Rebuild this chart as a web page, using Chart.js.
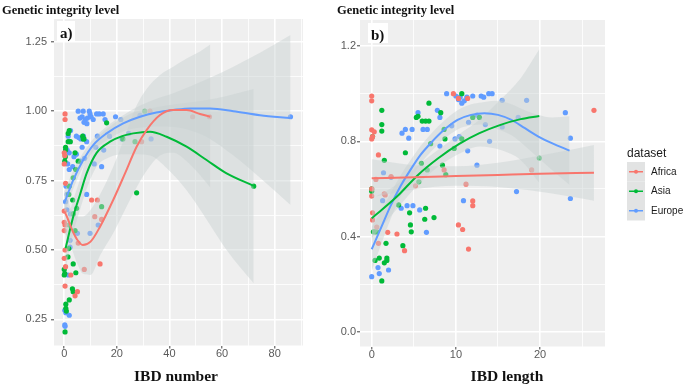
<!DOCTYPE html>
<html>
<head>
<meta charset="utf-8">
<script src="https://cdn.jsdelivr.net/npm/chart.js@4.4.0/dist/chart.umd.min.js"></script>
<style>
  html, body { margin: 0; padding: 0; background: #fff; }
  #wrap { position: relative; width: 685px; height: 387px; }
  canvas { position: absolute; top: 0; }
  #panelA { left: 0; }
  #panelB { left: 330px; }
</style>
</head>
<body>
<div id="wrap">
  <canvas id="panelA" width="330" height="387"></canvas>
  <canvas id="panelB" width="355" height="387"></canvas>
</div>
<script>
const groups = ['Africa', 'Asia', 'Europe'];
const groupColors = ['#F8766D', '#00BA38', '#619CFF'];

// ---- panel a) : IBD number vs genetic integrity level ----
const africaNum = [[0.3,0.99],[0.3,0.97],[0,0.85],[0.2,0.84],[0,0.81],[0.5,0.74],[0,0.64],[0,0.60],[0.3,0.59],[0,0.57],
  [0.3,0.50],[0,0.47],[0.5,0.44],[2.5,0.41],[0.3,0.37],[4.1,0.335],[5,0.35],[5.3,0.525],[7.6,0.43],[10.4,0.68],
  [12.6,0.68],[11.6,0.62],[14.2,0.61],[13.6,0.45],[29.4,0.89],[32.6,1.0],[48.8,0.98],[55.2,0.98]];
const asiaNum = [[1.9,0.93],[1.5,0.92],[1.5,0.89],[2.3,0.89],[0.5,0.87],[0.5,0.86],[0.4,0.836],[0.2,0.82],[4.1,0.85],[7,0.91],
  [7.2,0.90],[7.5,0.90],[4.4,0.79],[5.3,0.82],[3.4,0.76],[1.9,0.73],[1.7,0.70],[3.2,0.68],[4.7,0.65],[3.4,0.63],
  [1.9,0.59],[4.1,0.57],[1.7,0.505],[1.4,0.475],[0,0.43],[0,0.41],[0.2,0.415],[3.4,0.45],[4.4,0.418],[3.1,0.36],
  [3.4,0.35],[1.9,0.32],[0.6,0.305],[0.6,0.29],[0.8,0.28],[0.3,0.205],[14.2,0.656],[27.5,0.706],[16.1,0.958],
  [30.6,1.0],[22.3,0.90],[26.9,0.89],[72,0.73]];
const europeNum = [[5.3,1.0],[7.2,1.0],[9.5,1.0],[12.3,0.99],[13.3,0.99],[14.8,0.99],[9.8,0.99],[6,0.975],[6.8,0.98],[8,0.97],
  [8.8,0.975],[10.2,0.98],[11,0.97],[7.5,0.96],[8.6,0.955],[4.6,0.91],[5.5,0.905],[6.3,0.9],[7.3,0.91],[8.5,0.89],
  [2.4,0.93],[1.5,0.91],[1.1,0.86],[1.9,0.85],[1.3,0.81],[3.7,0.836],[4.6,0.845],[6.2,0.82],[7.7,0.83],[6.8,0.87],
  [1.9,0.79],[3.2,0.80],[0.7,0.73],[1.1,0.70],[0.5,0.674],[1,0.645],[2.4,0.63],[8.5,0.70],[5,0.56],[9.8,0.56],
  [2.2,0.535],[2.2,0.51],[1.5,0.41],[0.2,0.283],[0.6,0.274],[1.9,0.265],[0.2,0.23],[0.3,0.225],[11.4,0.81],[14.2,0.80],
  [15,0.86],[12.6,0.91],[15.5,0.97],[19.5,0.98],[21.5,0.97],[17.2,0.91],[22,0.90],[24.5,0.92],[12,0.87],[33,0.90],
  [12.9,0.59],[28.8,0.985],[86,0.98]];

// loess fits: x, fit, lower and upper band
const africaNumX  = [0, 1, 3, 5, 7, 10, 13.6, 18.6, 23.1, 27.5, 31.3, 36.4, 41.4, 46.5, 51.6, 55.5];
const africaNumFit = [0.64, 0.62, 0.572, 0.536, 0.518, 0.53, 0.584, 0.68, 0.776, 0.872, 0.932, 0.986, 1.004, 1.004, 0.99, 0.98];
const africaNumLo = [0.56, 0.55, 0.50, 0.45, 0.415, 0.41, 0.48, 0.56, 0.645, 0.725, 0.785, 0.84, 0.85, 0.82, 0.77, 0.725];
const africaNumHi = [0.72, 0.69, 0.64, 0.62, 0.62, 0.645, 0.70, 0.80, 0.91, 1.02, 1.08, 1.13, 1.16, 1.19, 1.215, 1.24];

const asiaNumX  = [0.5, 3.4, 6, 8.5, 12.3, 17.4, 22, 26.2, 32.6, 38.9, 46.5, 54.1, 61.7, 72];
const asiaNumFit = [0.506, 0.62, 0.70, 0.776, 0.85, 0.89, 0.91, 0.92, 0.926, 0.908, 0.872, 0.824, 0.776, 0.731];
const asiaNumLo = [0.43, 0.56, 0.645, 0.72, 0.80, 0.835, 0.845, 0.845, 0.84, 0.795, 0.715, 0.61, 0.50, 0.38];
const asiaNumHi = [0.58, 0.68, 0.755, 0.83, 0.90, 0.945, 0.975, 0.995, 1.01, 1.02, 1.03, 1.04, 1.055, 1.08];

const europeNumX  = [0, 3.4, 7.2, 11, 16.1, 22.4, 28.8, 35, 41.4, 48, 55.4, 64.3, 74.4, 86];
const europeNumFit = [0.668, 0.752, 0.824, 0.878, 0.92, 0.956, 0.98, 0.995, 1.004, 1.01, 1.01, 1.0, 0.985, 0.975];
const europeNumLo = [0.626, 0.72, 0.80, 0.855, 0.895, 0.927, 0.94, 0.945, 0.943, 0.93, 0.90, 0.84, 0.76, 0.662];
const europeNumHi = [0.71, 0.785, 0.85, 0.90, 0.945, 0.985, 1.02, 1.045, 1.065, 1.09, 1.12, 1.16, 1.21, 1.274];

// ---- panel b) : IBD length vs genetic integrity level ----
const africaLen = [[0,0.99],[0,0.97],[0,0.848],[0.3,0.84],[0,0.81],[0.1,0.82],[0.8,0.743],[0,0.60],[0,0.57],[0.1,0.50],
  [0.1,0.47],[0.6,0.44],[0.8,0.372],[1.9,0.418],[3,0.411],[3.9,0.341],[0.5,0.64],[1.6,0.575],[2.3,0.652],[1.5,0.58],
  [8.6,0.68],[5.2,0.613],[9.7,1.0],[10.3,0.98],[11.4,0.98],[11.2,0.62],[12,0.55],[12,0.53],[10.3,0.449],[10.8,0.43],
  [11.5,0.348],[19,0.68],[26.4,0.93]];
const asiaLen = [[0,0.59],[0,0.60],[0.1,0.82],[1.2,0.93],[1.2,0.87],[1.2,0.843],[1.5,0.72],[4,0.752],[3.2,0.533],[4.5,0.50],
  [4.6,0.449],[4.7,0.42],[3.7,0.362],[6.4,0.519],[6.3,0.473],[7.4,0.48],[6.8,0.96],[5.3,0.90],[5.5,0.905],[6,0.885],
  [6.4,0.885],[6.8,0.885],[8.2,0.92],[10.7,1.0],[1.7,0.372],[0.4,0.30],[0.9,0.31],[1.8,0.31],[1.8,0.30],[1.5,0.29],
  [1.2,0.214],[0.4,0.42],[0.6,0.42],[0.2,0.42],[5.6,0.63],[6.6,0.68],[7,0.79],[8.4,0.70],[8.8,0.66],[8.7,0.81],
  [9.8,0.77],[10.7,0.81],[12,0.90],[12.8,0.90],[8.6,0.85],[5.9,0.708],[19.9,0.73]];
const europeLen = [[0,0.232],[0.75,0.27],[0.9,0.245],[2,0.26],[1.4,0.668],[1.3,0.551],[2.3,0.649],[3.6,0.834],[4,0.85],[4.8,0.85],
  [4.4,0.813],[3.5,0.519],[4.2,0.53],[4.9,0.53],[5.7,0.512],[6.5,0.418],[5.5,0.92],[6.1,0.85],[6.6,0.85],[7.8,0.93],
  [8.1,0.90],[8.9,1.0],[10,0.99],[10.3,0.975],[10.5,0.985],[10.7,0.96],[11,0.97],[11.3,0.985],[12,0.99],[13,0.99],
  [13.3,0.985],[13.9,1.0],[14.3,1.0],[10.9,0.551],[17.2,0.589],[23.6,0.56],[23.6,0.813],[23,0.92],[18.4,0.972],[15.5,0.972],
  [14,0.80],[12.5,0.70],[11.4,0.76],[15.5,0.86],[17.4,0.90],[8.1,0.78],[9.5,0.865],[9.9,0.81],[10.4,0.82],[11.5,0.88],
  [12.5,0.91],[13.5,0.87]];

const africaLenX  = [0, 5, 10, 15, 20, 26.4];
const africaLenFit = [0.645, 0.649, 0.654, 0.659, 0.664, 0.668];
const africaLenLo = [0.565, 0.598, 0.613, 0.608, 0.588, 0.551];
const africaLenHi = [0.725, 0.70, 0.695, 0.71, 0.74, 0.785];

const asiaLenX  = [0, 3, 5.5, 7.9, 10.4, 12.8, 15.3, 17.7, 19.9];
const asiaLenFit = [0.477, 0.568, 0.659, 0.729, 0.789, 0.834, 0.869, 0.893, 0.906];
const asiaLenLo = [0.394, 0.516, 0.618, 0.693, 0.748, 0.778, 0.763, 0.721, 0.626];
const asiaLenHi = [0.56, 0.62, 0.70, 0.765, 0.83, 0.89, 0.975, 1.065, 1.186];

const europeLenX  = [0, 1, 2.2, 3.4, 4.6, 5.8, 7, 8.6, 10.2, 11.8, 13.4, 15, 16.6, 18.2, 19.8, 21.4, 23.5];
const europeLenFit = [0.347, 0.428, 0.526, 0.61, 0.68, 0.743, 0.792, 0.848, 0.89, 0.911, 0.918, 0.911, 0.89, 0.855, 0.82, 0.792, 0.761];
const europeLenLo = [0.255, 0.355, 0.47, 0.565, 0.64, 0.705, 0.755, 0.81, 0.85, 0.867, 0.871, 0.85, 0.825, 0.78, 0.73, 0.68, 0.617];
const europeLenHi = [0.44, 0.50, 0.58, 0.655, 0.72, 0.78, 0.83, 0.886, 0.93, 0.955, 0.965, 0.97, 0.955, 0.93, 0.91, 0.90, 0.905];

// axis breaks (major get a label, minor only a thin grid line)
const numMajorX = [0, 20, 40, 60, 80];
const numMinorX = [10, 30, 50, 70, 90];
const numMajorY = [0.25, 0.5, 0.75, 1.0, 1.25];
const numMinorY = [0.375, 0.625, 0.875, 1.125];
const lenMajorX = [0, 10, 20];
const lenMinorX = [5, 15, 25];
const lenMajorY = [0, 0.4, 0.8, 1.2];
const lenMinorY = [0.2, 0.6, 1.0];

// light band drawn over the points, so points under it look washed out
const RIBBON = 'rgba(200,208,208,0.45)';
const SANS = '"Liberation Sans", Arial, sans-serif';
const SERIF = '"Liberation Serif", "Times New Roman", serif';

const xy = (xs, ys) => xs.map((x, i) => ({ x, y: ys[i] }));

function buildDatasets(points, fits) {
  const sets = [];
  points.forEach((pts, i) => {
    sets.push({
      type: 'scatter', label: groups[i],
      data: pts.map(([x, y]) => ({ x, y })),
      backgroundColor: groupColors[i], borderWidth: 0, pointRadius: 2.6, order: 3
    });
  });
  // confidence bands: upper line filled down to the lower line
  fits.forEach(f => {
    const band = { type: 'line', pointRadius: 0, borderWidth: 0, borderColor: 'rgba(0,0,0,0)',
                   cubicInterpolationMode: 'monotone', order: 2 };
    sets.push({ ...band, data: xy(f.x, f.hi), fill: '+1', backgroundColor: RIBBON });
    sets.push({ ...band, data: xy(f.x, f.lo), fill: false });
  });
  fits.forEach((f, i) => {
    sets.push({
      type: 'line', data: xy(f.x, f.fit), borderColor: groupColors[i], borderWidth: 2,
      pointRadius: 0, fill: false, cubicInterpolationMode: 'monotone', order: 1
    });
  });
  return sets;
}

function axis(c) {
  const isMajor = v => c.major.some(m => Math.abs(m - v) < 1e-9);
  return {
    type: 'linear', min: c.min, max: c.max,
    afterBuildTicks: s => { s.ticks = [...c.major, ...c.minor].sort((a, b) => a - b).map(v => ({ value: v })); },
    afterFit: s => { s[c.dim] = c.size; },
    ticks: {
      autoSkip: false, maxRotation: 0, padding: c.pad, color: '#5a5a5a',
      font: { family: SANS, size: 11, lineHeight: 1 },
      callback: v => isMajor(v) ? c.fmt(v) : ''
    },
    grid: {
      color: '#ffffff',
      lineWidth: g => (g.tick && isMajor(g.tick.value)) ? 1.6 : 0.8,
      tickColor: g => (g.tick && isMajor(g.tick.value)) ? '#444' : 'rgba(0,0,0,0)',
      tickLength: 3, tickWidth: 1
    },
    border: { display: false }
  };
}

const plotBackground = {
  id: 'plotBackground',
  beforeDraw(chart) {
    const { ctx, chartArea: a } = chart;
    ctx.save();
    ctx.fillStyle = '#efefef';
    ctx.fillRect(a.left, a.top, a.width, a.height);
    ctx.restore();
  }
};

// title above the panel, the a)/b) tag and the x axis title
const panelText = {
  id: 'panelText',
  afterDraw(chart, args, o) {
    const { ctx, chartArea: a } = chart;
    ctx.save();
    ctx.fillStyle = '#111';
    ctx.font = 'bold 12.5px ' + SERIF;
    ctx.textBaseline = 'alphabetic';
    ctx.fillText('Genetic integrity level', o.titleX, 14);

    ctx.fillStyle = '#fff';
    ctx.fillRect(a.left + o.tagX, a.top + o.tagY, o.tagW, 20);
    ctx.fillStyle = '#111';
    ctx.font = 'bold 15px ' + SERIF;
    ctx.fillText(o.tag, a.left + o.tagX + 3, a.top + o.tagY + 16.5);

    ctx.font = 'bold 15.5px ' + SERIF;
    ctx.textAlign = 'center';
    ctx.fillText(o.xTitle, o.xTitleX, 381);
    ctx.restore();
  }
};

const legendBox = {
  id: 'legendBox',
  afterDraw(chart, args, o) {
    if (!o.show) return;
    const ctx = chart.ctx;
    const keyH = 19.5;
    ctx.save();
    ctx.textBaseline = 'middle';
    ctx.fillStyle = '#1a1a1a';
    ctx.font = '12px ' + SANS;
    ctx.fillText('dataset', o.x, o.y);
    groups.forEach((g, i) => {
      const top = o.y + 8 + i * keyH;
      const mid = top + keyH / 2;
      ctx.fillStyle = '#e2e3e3';
      ctx.fillRect(o.x, top, 18, keyH);
      ctx.strokeStyle = groupColors[i];
      ctx.lineWidth = 1.5;
      ctx.beginPath(); ctx.moveTo(o.x + 2, mid); ctx.lineTo(o.x + 16, mid); ctx.stroke();
      ctx.fillStyle = groupColors[i];
      ctx.beginPath(); ctx.arc(o.x + 9, mid, 2, 0, Math.PI * 2); ctx.fill();
      ctx.fillStyle = '#1a1a1a';
      ctx.font = '10px ' + SANS;
      ctx.fillText(g, o.x + 24, mid);
    });
    ctx.restore();
  }
};

function makePanel(id, p) {
  return new Chart(document.getElementById(id), {
    type: 'scatter',
    data: { datasets: buildDatasets(p.points, p.fits) },
    options: {
      responsive: false,
      animation: false,
      layout: { padding: { top: p.top, right: p.right, left: 0, bottom: 0 } },
      scales: {
        x: axis({ ...p.x, dim: 'height' }),
        y: axis({ ...p.y, dim: 'width' })
      },
      plugins: {
        legend: { display: false },
        tooltip: { enabled: false },
        panelText: p.text,
        legendBox: p.legend || { show: false }
      }
    },
    plugins: [plotBackground, panelText, legendBox]
  });
}

makePanel('panelA', {
  top: 19, right: 27,
  points: [africaNum, asiaNum, europeNum],
  fits: [
    { x: africaNumX, fit: africaNumFit, lo: africaNumLo, hi: africaNumHi },
    { x: asiaNumX, fit: asiaNumFit, lo: asiaNumLo, hi: asiaNumHi },
    { x: europeNumX, fit: europeNumFit, lo: europeNumLo, hi: europeNumHi }
  ],
  x: { min: -3.9, max: 90.75, major: numMajorX, minor: numMinorX, fmt: v => String(v), pad: 0, size: 41.5 },
  y: { min: 0.156, max: 1.332, major: numMajorY, minor: numMinorY, fmt: v => v.toFixed(2), pad: 4, size: 54 },
  text: { titleX: 2, tag: 'a)', tagX: 3, tagY: 2, tagW: 18, xTitle: 'IBD number', xTitleX: 176 }
});

makePanel('panelB', {
  top: 20, right: 80,
  points: [africaLen, asiaLen, europeLen],
  fits: [
    { x: africaLenX, fit: africaLenFit, lo: africaLenLo, hi: africaLenHi },
    { x: asiaLenX, fit: asiaLenFit, lo: asiaLenLo, hi: asiaLenHi },
    { x: europeLenX, fit: europeLenFit, lo: europeLenLo, hi: europeLenHi }
  ],
  x: { min: -1.39, max: 27.71, major: lenMajorX, minor: lenMinorX, fmt: v => String(v), pad: 0, size: 40.5 },
  y: { min: -0.061, max: 1.309, major: lenMajorY, minor: lenMinorY, fmt: v => v.toFixed(1), pad: 1, size: 30 },
  text: { titleX: 7, tag: 'b)', tagX: 8, tagY: 3, tagW: 20, xTitle: 'IBD length', xTitleX: 177 },
  legend: { show: true, x: 297, y: 154 }
});
</script>
</body>
</html>
